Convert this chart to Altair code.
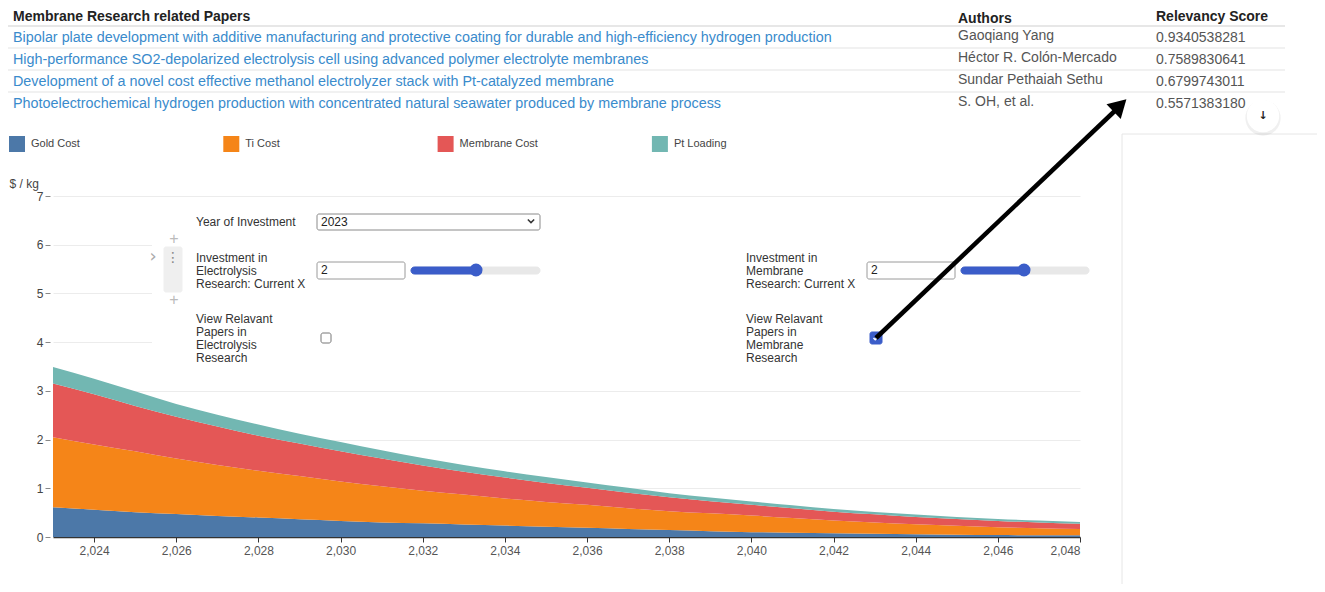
import altair as alt
import pandas as pd

# ---------------- data ----------------
years = list(range(2023, 2049))
gold_cost = [0.61, 0.56, 0.51, 0.47, 0.43, 0.40, 0.365, 0.33, 0.30, 0.28, 0.255, 0.235, 0.21,
             0.19, 0.165, 0.145, 0.12, 0.10, 0.087, 0.075, 0.065, 0.055, 0.047, 0.04, 0.037, 0.035]
ti_cost = [1.44, 1.34, 1.25, 1.14, 1.05, 0.96, 0.885, 0.81, 0.74, 0.67, 0.615, 0.555, 0.51,
           0.47, 0.425, 0.385, 0.365, 0.34, 0.303, 0.265, 0.235, 0.205, 0.183, 0.16, 0.143, 0.13]
membrane_cost = [1.10, 1.03, 0.93, 0.86, 0.79, 0.72, 0.67, 0.62, 0.57, 0.52, 0.47, 0.43, 0.39,
                 0.35, 0.32, 0.285, 0.25, 0.22, 0.20, 0.18, 0.165, 0.15, 0.14, 0.13, 0.12, 0.105]
pt_loading = [0.34, 0.32, 0.30, 0.26, 0.24, 0.23, 0.20, 0.19, 0.17, 0.15, 0.14, 0.13, 0.12,
              0.11, 0.10, 0.085, 0.075, 0.07, 0.06, 0.055, 0.05, 0.05, 0.04, 0.04, 0.04, 0.04]
series_names = ["Gold Cost", "Ti Cost", "Membrane Cost", "Pt Loading"]
series_colors = ["#4c78a8", "#f58518", "#e45756", "#72b7b2"]

x_ticks = list(range(2024, 2049, 2))
y_ticks = list(range(0, 8))

table_headers = ["Membrane Research related Papers", "Authors", "Relevancy Score"]
paper_titles = [
    "Bipolar plate development with additive manufacturing and protective coating for durable and high-efficiency hydrogen production",
    "High-performance SO2-depolarized electrolysis cell using advanced polymer electrolyte membranes",
    "Development of a novel cost effective methanol electrolyzer stack with Pt-catalyzed membrane",
    "Photoelectrochemical hydrogen production with concentrated natural seawater produced by membrane process",
]
paper_authors = ["Gaoqiang Yang", "Héctor R. Colón-Mercado", "Sundar Pethaiah Sethu", "S. OH, et al."]
paper_scores = ["0.9340538281", "0.7589830641", "0.6799743011", "0.5571383180"]
paper_rows = [1, 2, 3, 4]
row_separators = [1.5, 2.5, 3.5]
header_separator = [0.5]

year_options = ["2023"]
electrolysis_x = "2"
membrane_x = "2"

FONT = "Liberation Sans"

# ---------------- frames ----------------
area_rows = []
for i, (name, vals) in enumerate(zip(series_names, [gold_cost, ti_cost, membrane_cost, pt_loading])):
    for yr, v in zip(years, vals):
        area_rows.append({"year": yr, "series": name, "value": v, "order": i})
df_area = pd.DataFrame(area_rows)

df_papers = pd.DataFrame({"row": paper_rows, "title": paper_titles,
                          "author": paper_authors, "score": paper_scores})
df_head = pd.DataFrame({"row": [0]})
df_sep = pd.DataFrame({"sep": row_separators})
df_hsep = pd.DataFrame({"sep": header_separator})
anchor = pd.DataFrame({"a": [0]})

row_scale = alt.Scale(domain=[0, 4], range=[-181, -93])

# ---------------- main area chart ----------------
area = alt.Chart(df_area).mark_area(opacity=1, interpolate="monotone").encode(
    x=alt.X("year:Q",
            scale=alt.Scale(domain=[2023, 2048], range=[3, 1030], nice=False, zero=False),
            axis=alt.Axis(values=x_ticks, title=None, grid=False, domainColor="#333",
                          domainWidth=1.5, tickColor="#333", tickSize=5, labelFontSize=12,
                          labelColor="#555", labelPadding=3)),
    y=alt.Y("value:Q", stack="zero",
            scale=alt.Scale(domain=[0, 7], nice=False),
            axis=alt.Axis(values=y_ticks, title="$ / kg", titleAngle=0, titleAlign="left",
                          titleBaseline="middle", titleX=-41, titleY=-13, titleFontSize=12,
                          titleFontWeight="normal", titleColor="#444", domain=False,
                          tickColor="#888", tickSize=5, labelPadding=2, labelFontSize=12,
                          labelColor="#444", gridColor="#ececec")),
    color=alt.Color("series:N",
                    scale=alt.Scale(domain=series_names, range=series_colors),
                    legend=alt.Legend(orient="none", legendX=-41, legendY=-60,
                                      direction="horizontal", columns=4, title=None,
                                      symbolType="square", symbolSize=256,
                                      symbolStrokeWidth=0, symbolOpacity=1,
                                      labelFontSize=11, labelColor="#444", labelOffset=6,
                                      columnPadding=113.3, gridAlign="all")),
    order=alt.Order("order:Q", sort="ascending"),
)

# ---------------- table ----------------
hdr_title = alt.Chart(df_head).mark_text(text=table_headers[0], align="left", baseline="middle",
                                         fontSize=14, fontWeight="bold", color="#222", font=FONT, dy=2
                                         ).encode(x=alt.value(-37), y=alt.Y("row:Q", scale=row_scale, axis=None))
hdr_auth = alt.Chart(df_head).mark_text(text=table_headers[1], align="left", baseline="middle",
                                        fontSize=14, fontWeight="bold", color="#222", font=FONT, dy=4
                                        ).encode(x=alt.value(908), y=alt.Y("row:Q", scale=row_scale, axis=None))
hdr_score = alt.Chart(df_head).mark_text(text=table_headers[2], align="left", baseline="middle",
                                         fontSize=14, fontWeight="bold", color="#222", font=FONT, dy=2
                                         ).encode(x=alt.value(1106), y=alt.Y("row:Q", scale=row_scale, axis=None))
titles = alt.Chart(df_papers).mark_text(align="left", baseline="middle", fontSize=14.35,
                                        color="#3a8bcc", font=FONT, dy=1).encode(
    x=alt.value(-37), y=alt.Y("row:Q", scale=row_scale, axis=None), text="title:N")
authors = alt.Chart(df_papers).mark_text(align="left", baseline="middle", fontSize=14,
                                         color="#555", font=FONT, dy=-1.5).encode(
    x=alt.value(908), y=alt.Y("row:Q", scale=row_scale, axis=None), text="author:N")
scores = alt.Chart(df_papers).mark_text(align="left", baseline="middle", fontSize=14,
                                        color="#555", font=FONT, dy=1).encode(
    x=alt.value(1106), y=alt.Y("row:Q", scale=row_scale, axis=None), text="score:N")
seps = alt.Chart(df_sep).mark_rule(color="#e3e3e3", strokeWidth=1).encode(
    x=alt.value(-42), x2=alt.value(1235), y=alt.Y("sep:Q", scale=row_scale, axis=None))
hsep = alt.Chart(df_hsep).mark_rule(color="#cfcfcf", strokeWidth=1.2).encode(
    x=alt.value(-42), x2=alt.value(1235), y=alt.Y("sep:Q", scale=row_scale, axis=None))


# ---------------- widget decorations ----------------
def txt(text, x, y, size=12, color="#333", align="left", weight="normal", font=FONT):
    return alt.Chart(anchor).mark_text(text=text, align=align, baseline="middle", fontSize=size,
                                       color=color, font=font, lineHeight=13,
                                       fontWeight=weight).encode(x=alt.value(x), y=alt.value(y))


def box(x, x2, y, y2, fill="white", stroke="#999", radius=2, sw=1, fill_opacity=1):
    return alt.Chart(anchor).mark_rect(fill=fill, stroke=stroke, cornerRadius=radius,
                                       strokeWidth=sw, fillOpacity=fill_opacity).encode(
        x=alt.value(x), x2=alt.value(x2), y=alt.value(y), y2=alt.value(y2))


def dot(x, y, size, color, shape="circle", filled=True, sw=1, angle=0, opacity=1):
    m = alt.Chart(anchor).mark_point(shape=shape, filled=filled, size=size, color=color,
                                     strokeWidth=sw, angle=angle, opacity=opacity)
    return m.encode(x=alt.value(x), y=alt.value(y))


overlay = box(102, 1072, 4, 179, fill="white", stroke="white", radius=0, sw=0)
right_panel = box(1072, 1300, -62, 420, fill="white", stroke="#e6e6e6", radius=0, sw=1)

widgets = [
    overlay,
    right_panel,
    # handle
    box(114, 132, 51, 96, fill="#efefef", stroke="#efefef", radius=2),
    txt("⋮", 123, 62, size=14, color="#888", align="center", font="DejaVu Sans"),
    txt("›", 103, 61, size=18, color="#aaa", align="center", font="DejaVu Sans"),
    txt("+", 124, 43, size=16, color="#bbb", align="center"),
    txt("+", 124, 104, size=16, color="#bbb", align="center"),
    # year select
    txt("Year of Investment", 146, 26),
    box(267, 490, 18, 34, stroke="#8a8a8a"),
    txt(year_options[0], 271, 26, color="#222"),
    dot(481, 25, 40, "#333", shape="M-1,-0.5L0,0.5L1,-0.5", filled=False, sw=1.5),
    # electrolysis
    txt(["Investment in", "Electrolysis", "Research: Current X"], 146, 62),
    box(267, 355, 66, 83, stroke="#9a9a9a"),
    txt(electrolysis_x, 271, 74, color="#222"),
    box(361, 490, 71, 78, fill="#e8e8e8", stroke="#e8e8e8", radius=3.5),
    box(361, 426, 71, 78, fill="#3b5dc9", stroke="#3b5dc9", radius=3.5),
    dot(426, 74, 170, "#3b5dc9"),
    txt(["View Relavant", "Papers in", "Electrolysis", "Research"], 146, 123),
    box(271, 281, 137, 147, stroke="#777", radius=2),
    # membrane
    txt(["Investment in", "Membrane", "Research: Current X"], 696, 62),
    box(817, 905, 66, 83, stroke="#9a9a9a"),
    txt(membrane_x, 821, 74, color="#222"),
    box(911, 1039, 71, 78, fill="#e8e8e8", stroke="#e8e8e8", radius=3.5),
    box(911, 974, 71, 78, fill="#3b5dc9", stroke="#3b5dc9", radius=3.5),
    dot(974, 74, 170, "#3b5dc9"),
    txt(["View Relavant", "Papers in", "Membrane", "Research"], 696, 123),
    box(820, 832, 136, 148, fill="#3b5dc9", stroke="#3b5dc9", radius=2),
    dot(826, 142, 40, "white", shape="M-0.8,0L-0.25,0.55L0.8,-0.55", filled=False, sw=1.5),
    # arrow
    alt.Chart(anchor).mark_rule(color="black", strokeWidth=4.5).encode(
        x=alt.value(826), y=alt.value(142), x2=alt.value(1070), y2=alt.value(-90)),
    dot(1070, -90.5, 420, "black", shape="triangle-up", angle=46),
    # round button
    dot(1213, -78, 1250, "#000", opacity=0.06),
    dot(1213, -80, 1050, "white", filled=True),
    txt("↓", 1213, -80, size=11, color="#222", align="center", weight="bold", font="DejaVu Sans"),
]

chart = alt.layer(area, hsep, seps, hdr_title, hdr_auth, hdr_score, titles, authors, scores,
                  *widgets).resolve_scale(y="independent").properties(
    width=1030, height=341, autosize="none",
    padding={"left": 42, "top": 188, "right": 237, "bottom": 47},
).configure(font=FONT).configure_view(strokeWidth=0)

chart.save("out.html", embed_options={"renderer": "svg", "actions": False})
